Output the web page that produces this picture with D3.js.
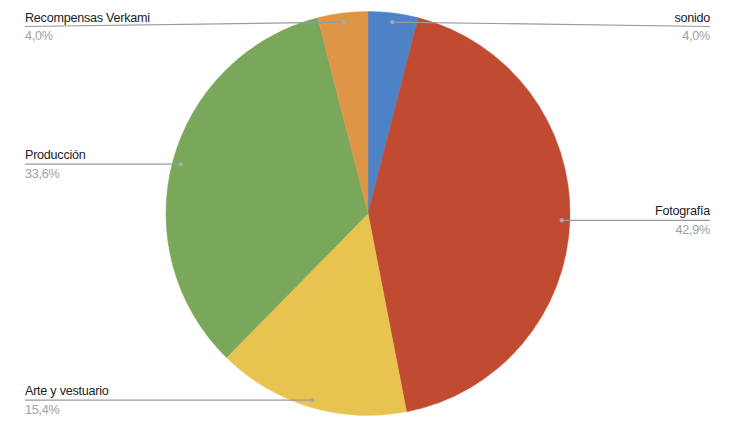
<!DOCTYPE html>
<html><head><meta charset="utf-8">
<script src="https://cdn.jsdelivr.net/npm/d3@7"></script>
<style>html,body{margin:0;padding:0;background:#fff;}svg{display:block;}</style>
</head><body>
<svg id="chart" width="745" height="429"></svg>
<script>
const categories = ["sonido", "Fotografía", "Arte y vestuario", "Producción", "Recompensas Verkami"];
const values = [4.0, 42.9, 15.4, 33.6, 4.0];
const labels = ["4,0%", "42,9%", "15,4%", "33,6%", "4,0%"];
const colors = ["#4d82c6", "#c14b31", "#e9c350", "#79a85b", "#dd9548"];

const W = 745, H = 429, cx = 368, cy = 213.5, R = 202;
const svg = d3.select("#chart");
const g = svg.append("g").attr("transform", `translate(${cx},${cy})`);
const data = categories.map((c, i) => ({name: c, value: values[i], label: labels[i], color: colors[i]}));
const pie = d3.pie().value(d => d.value).sort(null);
const arcs = pie(data);
const arc = d3.arc().innerRadius(0).outerRadius(R);
g.selectAll("path.slice").data(arcs).enter().append("path")
  .attr("d", arc).attr("fill", d => d.data.color)
  .attr("stroke", d => d.data.color).attr("stroke-width", 0.5);

const dotArc = d3.arc().innerRadius(R * 0.96).outerRadius(R * 0.96);
const leftX = 25, rightX = 710;
arcs.forEach(a => {
  const [dx, dy] = dotArc.centroid(a);
  const px = cx + dx, py = cy + dy + 1;
  const mid = (a.startAngle + a.endAngle) / 2;
  const right = mid < Math.PI;
  const lx = right ? rightX : leftX;
  const ly = Math.max(py, 26.5);
  svg.append("line").attr("x1", px).attr("y1", py).attr("x2", lx).attr("y2", ly)
    .attr("stroke", "#9a9a9a").attr("stroke-width", 1.2);
  svg.append("circle").attr("cx", px).attr("cy", py).attr("r", 2.2).attr("fill", "#a8a8a8");
  svg.append("text").attr("x", lx).attr("y", ly - 5)
    .attr("text-anchor", right ? "end" : "start")
    .attr("font-family", "Liberation Sans, Arial, sans-serif").attr("font-size", 12.6)
    .attr("letter-spacing", -0.25)
    .attr("fill", "#222").text(a.data.name);
  svg.append("text").attr("x", lx).attr("y", ly + 13.8)
    .attr("text-anchor", right ? "end" : "start")
    .attr("font-family", "Liberation Sans, Arial, sans-serif").attr("font-size", 12.6)
    .attr("letter-spacing", -0.25)
    .attr("fill", "#a0a0a0").text(a.data.label);
});
</script>
</body></html>
